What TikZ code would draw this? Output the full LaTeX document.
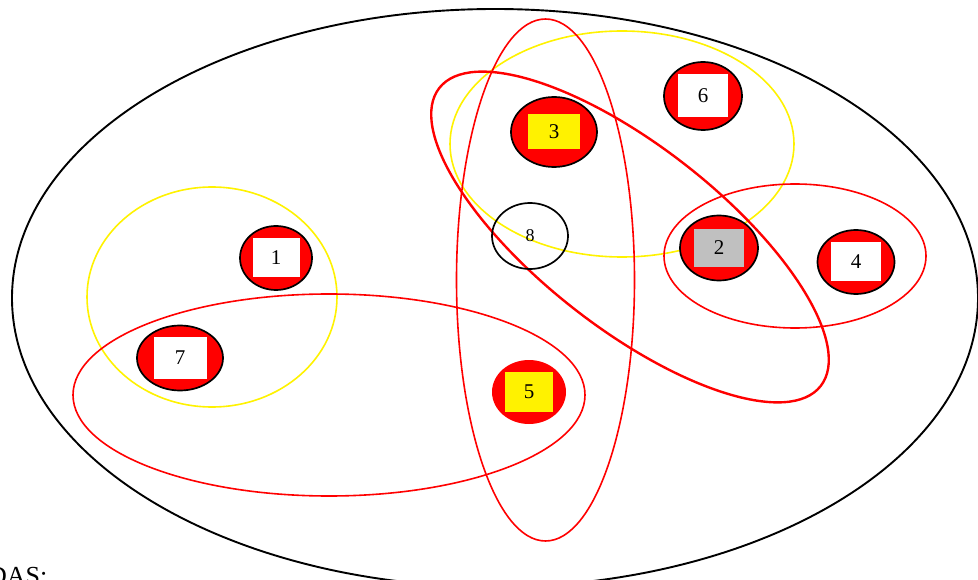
\documentclass[tikz,border=0pt]{standalone}
\usepackage{fontspec}
\setmainfont{Liberation Serif}
\usetikzlibrary{shapes.geometric}

\definecolor{tagGray}{RGB}{192,192,192}

\tikzset{
  member/.style={ellipse, draw=black, fill=red, line width=1.7pt, inner sep=0pt},
  tag/.style={rectangle, fill=white, inner sep=0pt, font=\fontsize{21}{24}\selectfont},
  setline/.style={line width=1.6pt}
}

\begin{document}
\begin{tikzpicture}[x=1pt, y=-1pt]
  \clip (0,0) rectangle (978,580);
  % universe
  \draw[line width=1.9pt] (495,298) ellipse [x radius=483, y radius=289];
  % sets
  \draw[setline, yellow] (212,297) ellipse [x radius=125, y radius=110];
  \draw[setline, red] (329,395) ellipse [x radius=256, y radius=101];
  \draw[setline, yellow] (622,144) ellipse [x radius=172, y radius=113];
  \draw[setline, red] (795,256) ellipse [x radius=131, y radius=72];
  \draw[setline, red] (545.5,280) ellipse [x radius=89, y radius=261];
  \draw[line width=2.4pt, red, rotate around={-38:(630,237)}] (630,237) ellipse [x radius=242, y radius=91];
  % elements
  \node[member, minimum width=72pt, minimum height=64pt] (e1) at (276,258) {};
  \node[tag, minimum width=47pt, minimum height=39pt] (l1) at (e1) {1};
  \node[member, minimum width=78pt, minimum height=65pt] (e2) at (719,248) {};
  \node[tag, fill=tagGray, minimum width=50pt, minimum height=38pt] (l2) at (e2) {2};
  \node[member, minimum width=86pt, minimum height=70pt] (e3) at (554,132) {};
  \node[tag, fill=yellow, minimum width=52pt, minimum height=35pt] (l3) at (e3) {3};
  \node[member, minimum width=77pt, minimum height=64pt] (e4) at (856,262) {};
  \node[tag, minimum width=50pt, minimum height=39pt] (l4) at (e4) {4};
  \node[member, draw=none, minimum width=74pt, minimum height=64pt] (e5) at (529,392) {};
  \node[tag, fill=yellow, minimum width=48pt, minimum height=40pt] (l5) at (e5) {5};
  \node[member, minimum width=78pt, minimum height=68pt] (e6) at (703,96) {};
  \node[tag, minimum width=50pt, minimum height=43pt] (l6) at (e6) {6};
  \node[member, minimum width=86pt, minimum height=65pt] (e7) at (180,358) {};
  \node[tag, minimum width=53pt, minimum height=42pt] (l7) at (e7) {7};
  \node[member, fill=none, minimum width=76pt, minimum height=66pt] (e8) at (530,236) {};
  \node[font=\fontsize{18}{20}\selectfont] (l8) at (e8) {8};
  \node[anchor=base west, font=\fontsize{26}{30}\selectfont, inner sep=0pt] (das) at (-12,584) {DAS:};
\end{tikzpicture}
\end{document}
